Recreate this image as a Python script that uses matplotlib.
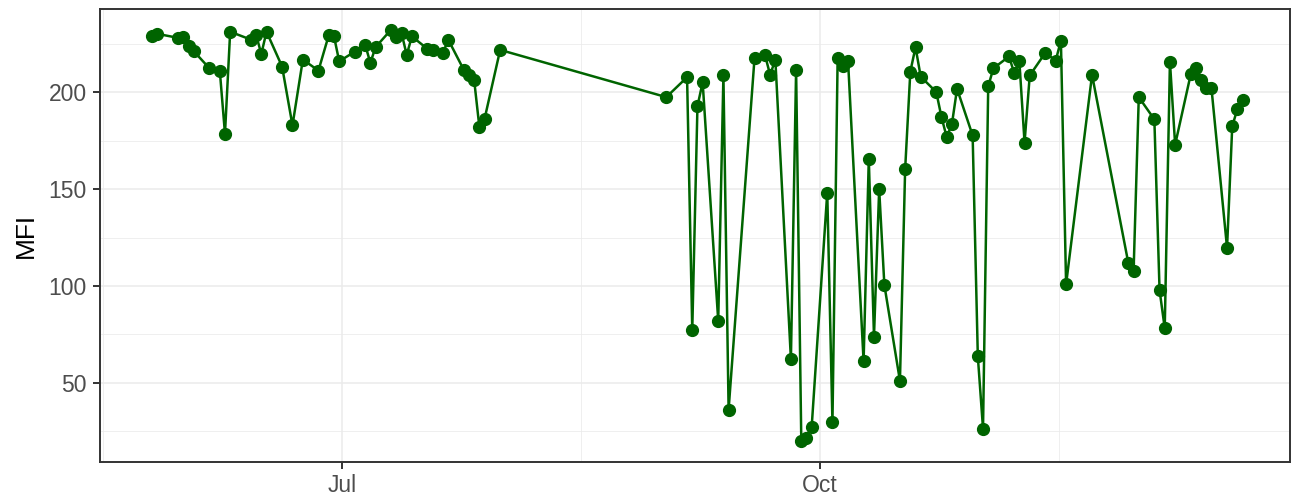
import numpy as np
import pandas as pd
import matplotlib
matplotlib.use("Agg")
import matplotlib.pyplot as plt
import matplotlib.dates as mdates

# values
dates = [
    "2021-05-25", "2021-05-26", "2021-05-30", "2021-05-31", "2021-06-01", "2021-06-02",
    "2021-06-05", "2021-06-07", "2021-06-08", "2021-06-09", "2021-06-13", "2021-06-14",
    "2021-06-15", "2021-06-16", "2021-06-19", "2021-06-21", "2021-06-23", "2021-06-26",
    "2021-06-28", "2021-06-29", "2021-06-30", "2021-07-03", "2021-07-05", "2021-07-06",
    "2021-07-07", "2021-07-10", "2021-07-11", "2021-07-12", "2021-07-13", "2021-07-14",
    "2021-07-17", "2021-07-18", "2021-07-20", "2021-07-21", "2021-07-24", "2021-07-25",
    "2021-07-26", "2021-07-27", "2021-07-28", "2021-07-31",
    "2021-09-01", "2021-09-05", "2021-09-06", "2021-09-07", "2021-09-08", "2021-09-11",
    "2021-09-12", "2021-09-13", "2021-09-18", "2021-09-20", "2021-09-21", "2021-09-22",
    "2021-09-25", "2021-09-26", "2021-09-27", "2021-09-28", "2021-09-29", "2021-10-02",
    "2021-10-03", "2021-10-04", "2021-10-05", "2021-10-06", "2021-10-09", "2021-10-10",
    "2021-10-11", "2021-10-12", "2021-10-13", "2021-10-16", "2021-10-17", "2021-10-18",
    "2021-10-19", "2021-10-20", "2021-10-23", "2021-10-24", "2021-10-25", "2021-10-26",
    "2021-10-27", "2021-10-30", "2021-10-31", "2021-11-01", "2021-11-02", "2021-11-03",
    "2021-11-06", "2021-11-07", "2021-11-08", "2021-11-09", "2021-11-10", "2021-11-13",
    "2021-11-15", "2021-11-16", "2021-11-17", "2021-11-22", "2021-11-29", "2021-11-30",
    "2021-12-01", "2021-12-04", "2021-12-05", "2021-12-06", "2021-12-07", "2021-12-08",
    "2021-12-11", "2021-12-12", "2021-12-13", "2021-12-14", "2021-12-15", "2021-12-18",
    "2021-12-19", "2021-12-20", "2021-12-21",
]
mfi = [
    229.4, 230.3, 228.2, 228.9, 224.2, 221.3,
    212.5, 211.3, 178.7, 231.4, 227.3, 229.7,
    219.9, 231.4, 213.4, 183.0, 217.0, 211.3,
    229.7, 229.0, 216.1, 221.1, 224.7, 215.3,
    223.4, 232.5, 228.5, 230.8, 219.4, 229.0,
    222.5, 222.0, 220.5, 227.3, 211.7, 209.1,
    206.2, 182.1, 186.4, 222.0,
    197.6, 207.9, 77.3, 192.9, 205.3, 82.1,
    208.8, 36.1, 218.0, 219.4, 209.1, 217.0,
    62.2, 211.7, 19.7, 21.5, 27.2, 148.3,
    29.7, 217.7, 213.9, 216.5, 61.0, 165.8,
    73.9, 150.0, 100.5, 51.0, 160.3, 210.8,
    223.4, 208.2, 200.2, 187.3, 177.0, 183.5,
    201.9, 177.8, 63.6, 26.3, 203.2, 212.5,
    218.6, 210.2, 216.1, 174.1, 208.8, 220.5,
    216.5, 226.8, 100.9, 209.1, 111.7, 107.7,
    197.6, 186.1, 97.9, 78.2, 216.0, 173.0,
    209.3, 212.7, 206.7, 202.2, 202.2, 119.7,
    182.5, 191.6, 196.2,
]
sample_hour = 11  # readings sit a bit past midnight on the date axis
x_limits = ["2021-05-15 07:00", "2021-12-30 14:00"]
x_major = ["2021-07-01", "2021-10-01"]
x_major_labels = ["Jul", "Oct"]
x_minor = ["2021-05-16", "2021-08-16", "2021-11-16"]
y_major = [50, 100, 150, 200]
y_minor = [25, 75, 125, 175, 225]

plt.rcParams['font.family'] = ['Liberation Sans', 'DejaVu Sans']

d = pd.to_datetime(dates) + pd.Timedelta(hours=sample_hour)
xnum = mdates.date2num(d)
y = np.array(mfi)

fig = plt.figure(figsize=(12.92, 4.97), dpi=100)
ax = fig.add_axes([99.5/1292, 1 - 462/497, (1290 - 99.5)/1292, (462 - 9)/497])

ax.plot(xnum, y, color="#006400", lw=1.8, zorder=3)
ax.plot(xnum, y, "o", color="#006400", ms=8.5, zorder=4)

ax.set_xlim(mdates.date2num(pd.to_datetime(x_limits)))
# ggplot-like 5% expansion
yr = y.max() - y.min()
ax.set_ylim(y.min() - 0.05*yr, y.max() + 0.05*yr)

ax.set_xticks(mdates.date2num(pd.to_datetime(x_major)))
ax.set_xticklabels(x_major_labels)
ax.set_xticks(mdates.date2num(pd.to_datetime(x_minor)), minor=True)
ax.set_yticks(y_major)
ax.set_yticks(y_minor, minor=True)

ax.grid(which="major", color="#EBEBEB", lw=1.1, zorder=0)
ax.grid(which="minor", color="#EBEBEB", lw=0.55, zorder=0)
ax.set_axisbelow(True)

for s in ax.spines.values():
    s.set_color("#333333")
    s.set_linewidth(1.4)

ax.tick_params(which="major", length=5, width=1.4, color="#333333",
               labelsize=16.5, labelcolor="#4D4D4D", pad=4)
ax.tick_params(which="minor", length=0)

ax.set_ylabel("MFI", fontsize=19, color="black", labelpad=8)

fig.savefig("out.png", dpi=100)
